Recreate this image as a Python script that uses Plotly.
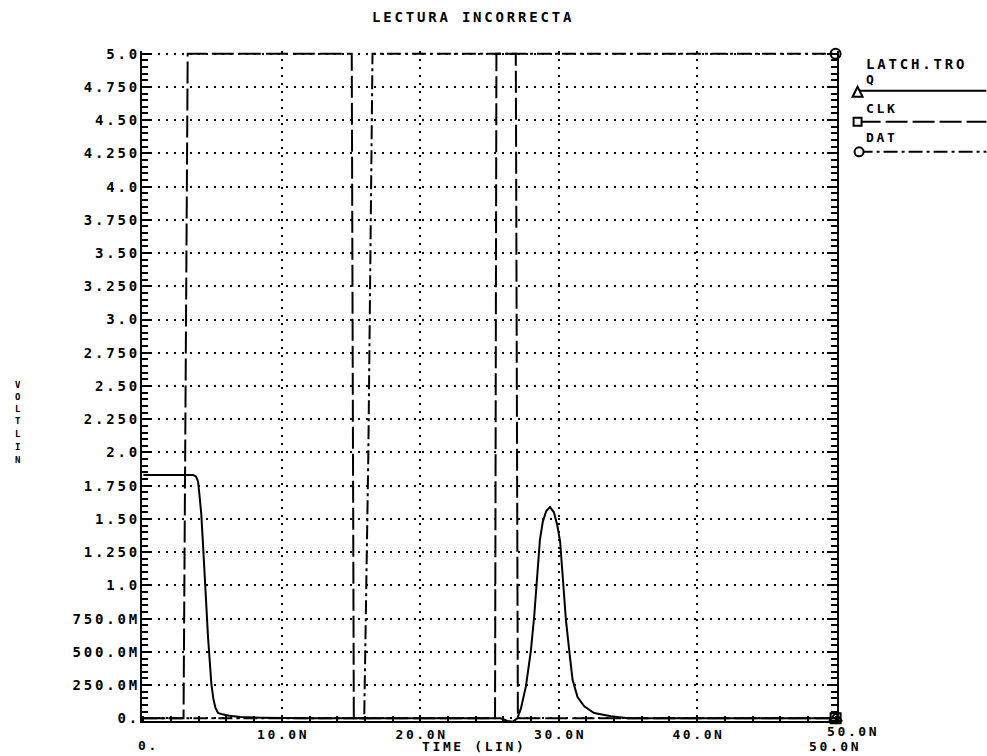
import plotly.graph_objects as go

# ---------------- data (time in ns, voltage in V) ----------------
time_q = [0.0, 3.40, 3.59, 3.80, 3.95, 4.05, 4.18, 4.30, 4.42, 4.55, 4.67, 4.80, 4.91,
          5.05, 5.20, 5.39, 5.70, 6.20, 7.00, 8.50, 12.0, 18.0, 24.0, 25.8,
          26.3, 26.7, 27.01, 27.27, 27.63, 27.99, 28.23, 28.48, 28.64, 28.85, 29.10,
          29.37, 29.65, 29.90, 30.10, 30.30, 30.52, 30.76, 31.00, 31.36, 31.84, 32.56,
          33.77, 35.0, 40.0, 45.0, 50.0]
volt_q = [1.83, 1.83, 1.83, 1.82, 1.78, 1.68, 1.54, 1.32, 1.09, 0.79, 0.61, 0.42, 0.26,
          0.15, 0.08, 0.04, 0.03, 0.02, 0.01, 0.005, 0.0, 0.0, 0.0, 0.0,
          -0.02, -0.025, 0.0, 0.075, 0.24, 0.51, 0.77, 1.09, 1.34, 1.48, 1.56,
          1.59, 1.55, 1.45, 1.33, 1.05, 0.74, 0.51, 0.29, 0.16, 0.09, 0.04,
          0.015, 0.0, 0.0, 0.0, 0.0]

time_clk = [0.0, 2.90, 3.20, 15.05, 15.20, 25.40, 25.50, 26.90, 27.05, 50.0]
volt_clk = [0.0, 0.0, 5.0, 5.0, 0.0, 0.0, 5.0, 5.0, 0.0, 0.0]

time_dat = [0.0, 15.95, 16.25, 16.45, 16.55, 50.0]
volt_dat = [0.0, 0.0, 2.0, 4.0, 5.0, 5.0]

y_tick_vals = [5.0, 4.75, 4.5, 4.25, 4.0, 3.75, 3.5, 3.25, 3.0, 2.75, 2.5,
               2.25, 2.0, 1.75, 1.5, 1.25, 1.0, 0.75, 0.5, 0.25, 0.0]
y_tick_labels = ["5.0", "4.750", "4.50", "4.250", "4.0", "3.750", "3.50", "3.250",
                 "3.0", "2.750", "2.50", "2.250", "2.0", "1.750", "1.50", "1.250",
                 "1.0", "750.0M", "500.0M", "250.0M", "0."]
x_tick_vals = [10, 20, 30, 40]
x_tick_labels = ["10.0N", "20.0N", "30.0N", "40.0N"]
x_end_label = "50.0N"
x_start_label = "0."
series_names = ["Q", "CLK", "DAT"]
file_label = "LATCH.TRO"
title_text = "LECTURA INCORRECTA"
x_title = "TIME (LIN)"
y_title_letters = ["V", "O", "L", "T", "L", "I", "N"]

# ---------------- styling ----------------
FONT = "DejaVu Sans Mono"
W, H = 987, 756
L, R, T, B = 141.6, 837.4, 51.3, 720.7
CLK_DASH = "22px,5px"
DAT_DASH = "14px,4px,3px,4px"
GAP = '<span style="font-family:DejaVu Sans">\u2009</span>'
Y_TITLE_POS = [385, 397, 409, 421, 434, 447, 460]


def sp(s):
    return GAP.join(s)


def px(x):
    return (x - L) / (R - L)


def py(y):
    return (B - y) / (B - T)


fig = go.Figure()
fig.add_trace(go.Scatter(x=time_q, y=volt_q, mode="lines", name=series_names[0],
                         line=dict(color="black", width=2)))
fig.add_trace(go.Scatter(x=time_clk, y=volt_clk, mode="lines", name=series_names[1],
                         line=dict(color="black", width=2, dash=CLK_DASH)))
fig.add_trace(go.Scatter(x=time_dat, y=volt_dat, mode="lines", name=series_names[2],
                         line=dict(color="black", width=2, dash=DAT_DASH)))
# end markers of each trace
fig.add_trace(go.Scatter(x=[time_q[-1]], y=[volt_q[-1]], mode="markers", cliponaxis=False,
                         marker=dict(symbol="triangle-up-open", size=11, color="black",
                                     line=dict(width=2))))
fig.add_trace(go.Scatter(x=[time_clk[-1]], y=[volt_clk[-1]], mode="markers", cliponaxis=False,
                         marker=dict(symbol="square-open", size=10, color="black",
                                     line=dict(width=2))))
fig.add_trace(go.Scatter(x=[time_dat[-1]], y=[volt_dat[-1]], mode="markers", cliponaxis=False,
                         marker=dict(symbol="circle-open", size=10, color="black",
                                     line=dict(width=2))))

tick_font = dict(family=FONT, size=14, color="black", weight="bold")

fig.update_layout(
    width=W, height=H,
    margin=dict(l=L, r=W - R, t=T, b=H - B, pad=0),
    paper_bgcolor="white", plot_bgcolor="white",
    showlegend=False,
    xaxis=dict(range=[-0.1, 50.1], tickvals=x_tick_vals,
               ticktext=[sp(t) for t in x_tick_labels],
               tickfont=dict(family=FONT, size=13, color="black", weight="bold"),
               ticks="inside", ticklen=5, tickwidth=2,
               tickcolor="black", ticklabelstandoff=0,
               minor=dict(dtick=2, tick0=0, ticks="inside", ticklen=5, tickwidth=2,
                          tickcolor="black", showgrid=False),
               showgrid=True, gridcolor="black", gridwidth=1.6, griddash="2px,6px",
               showline=True, linecolor="black", linewidth=2, zeroline=False,
               mirror=False),
    yaxis=dict(range=[-0.02, 5.02], tickvals=y_tick_vals,
               ticktext=[sp(t) for t in y_tick_labels],
               tickfont=tick_font, ticks="inside", ticklen=10, tickwidth=2,
               tickcolor="black",
               minor=dict(dtick=0.05, tick0=0, ticks="inside", ticklen=6, tickwidth=2,
                          tickcolor="black", showgrid=False),
               showgrid=True, gridcolor="black", gridwidth=1.6, griddash="2px,6px",
               showline=True, linecolor="black", linewidth=2, zeroline=False,
               mirror="ticks"),
)

anns = [
    (472, 17, title_text, "center", 14),
    (473, 746, x_title, "center", 13),
    (147, 745, x_start_label, "center", 13),
    (834, 746, x_end_label, "center", 13),
    (852, 731, x_end_label, "center", 13),
    (864, 64, file_label, "left", 14),
    (864, 80, series_names[0], "left", 13),
    (864, 109, series_names[1], "left", 13),
    (864, 138, series_names[2], "left", 13),
]
for (x, y, t, al, fs) in anns:
    fig.add_annotation(x=px(x), y=py(y), xref="paper", yref="paper", text=sp(t),
                       showarrow=False, xanchor=al, yanchor="middle",
                       font=dict(family=FONT, size=fs, color="black", weight="bold"))

for ch, yy in zip(y_title_letters, Y_TITLE_POS):
    fig.add_annotation(x=px(17), y=py(yy), xref="paper", yref="paper", text=ch,
                       showarrow=False, xanchor="center", yanchor="middle", borderpad=0,
                       font=dict(family=FONT, size=9, color="black", weight="bold"))

# legend samples
leg = [(91, None), (122, CLK_DASH), (152, DAT_DASH)]
for (yy, dash) in leg:
    fig.add_shape(type="line", xref="paper", yref="paper", x0=px(859), x1=px(987),
                  y0=py(yy), y1=py(yy), line=dict(color="black", width=2, dash=dash))
# triangle for Q
fig.add_shape(type="path", xref="paper", yref="paper",
              path=f"M {px(853)} {py(97)} L {px(863)} {py(97)} L {px(858)} {py(87)} Z",
              line=dict(color="black", width=2), fillcolor="white")
fig.add_shape(type="rect", xref="paper", yref="paper", x0=px(854), x1=px(862),
              y0=py(126), y1=py(118), line=dict(color="black", width=2), fillcolor="white")
fig.add_shape(type="circle", xref="paper", yref="paper", x0=px(855), x1=px(864),
              y0=py(156.5), y1=py(147.5), line=dict(color="black", width=2), fillcolor="white")

fig.write_html("out.html")
